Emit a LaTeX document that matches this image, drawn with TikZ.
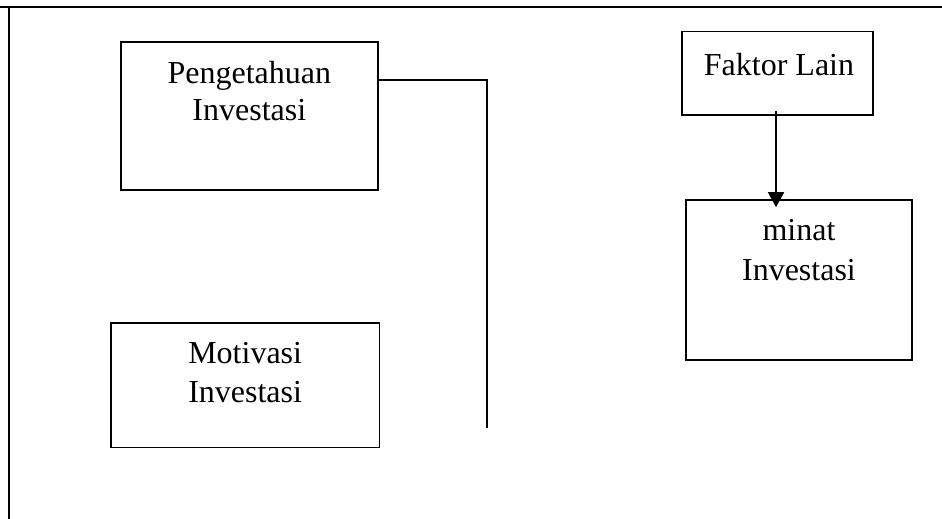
\documentclass[tikz,border=0pt]{standalone}
\usepackage{fontspec}
\setmainfont{Liberation Serif}
\usetikzlibrary{arrows.meta}
\begin{document}
\begin{tikzpicture}[x=1pt,y=-1pt,
  box/.style={draw=black, line width=1.6pt, rectangle, inner sep=0pt, fill=none},
  txt/.style={inner sep=0pt, anchor=base, font=\fontsize{32}{37}\selectfont},
  frame/.style={line width=2.4pt, black},
  link/.style={line width=1.7pt, black},
  arr/.style={line width=1.6pt, black, -{Triangle[width=16pt,length=15pt]}}]
\useasboundingbox (0,0) rectangle (942,519);
% outer frame
\coordinate (ftl) at (0,6.8);
\coordinate (ftr) at (942,6.8);
\coordinate (fl1) at (9.2,5.6);
\coordinate (fl2) at (9.2,519);
\draw[frame] (ftl) -- (ftr);
\draw[frame] (fl1) -- (fl2);
% boxes
\node[box, minimum width=257.3pt, minimum height=148pt] (pk) at (249.35,116) {};
\node[txt] (pkt1) at (249.35,83) {Pengetahuan};
\node[txt] (pkt2) at (249.35,120) {Investasi};
\node[box, minimum width=268.3pt, minimum height=124.6pt] (mo) at (245.15,385) {};
\node[txt] (mot1) at (245.15,363) {Motivasi};
\node[txt] (mot2) at (245.15,402.7) {Investasi};
\node[box, minimum width=191pt, minimum height=83.3pt] (fl) at (777.5,73.35) {};
\node[txt] (flt) at (779,75) {Faktor Lain};
\node[box, minimum width=226pt, minimum height=160pt] (mi) at (799,280) {};
\node[txt] (mit1) at (799,240) {minat};
\node[txt] (mit2) at (799,280) {Investasi};
% connector
\coordinate (lend) at (487,428);
\draw[link] ([yshift=36pt]pk.east) -| (lend);
% arrow
\draw[arr] ([xshift=-1.5pt,yshift=5pt]fl.south) -- ([xshift=-1.5pt,yshift=-8pt]fl.south |- mi.north);
\end{tikzpicture}
\end{document}
